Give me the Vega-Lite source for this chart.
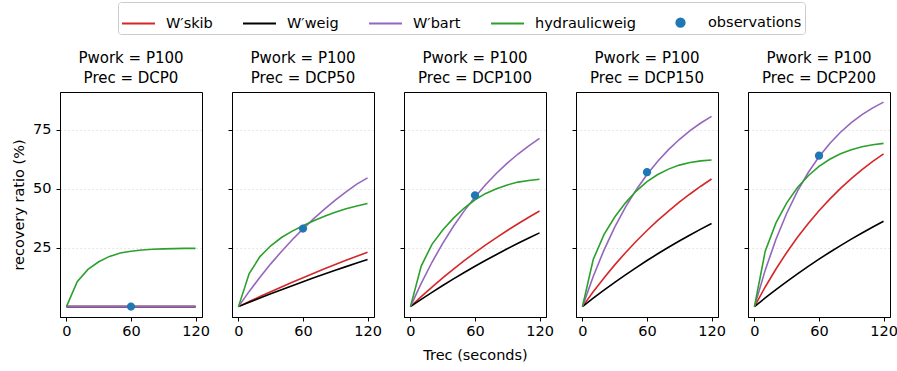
{
  "$schema": "https://vega.github.io/schema/vega-lite/v6.json",
  "padding": {"top": 1, "left": 11, "right": 5, "bottom": 5},
  "background": "white",
  "data": {"values": [
    {"p":0,"t":0,"s1":0,"s2":0,"s3":0,"s4":0},
    {"p":0,"t":10,"s1":0,"s2":0,"s3":0,"s4":10.6},
    {"p":0,"t":20,"s1":0,"s2":0,"s3":0,"s4":15.8},
    {"p":0,"t":30,"s1":0,"s2":0,"s3":0,"s4":19.0},
    {"p":0,"t":40,"s1":0,"s2":0,"s3":0,"s4":21.3},
    {"p":0,"t":50,"s1":0,"s2":0,"s3":0,"s4":22.7},
    {"p":0,"t":60,"s1":0,"s2":0,"s3":0,"s4":23.5},
    {"p":0,"t":70,"s1":0,"s2":0,"s3":0,"s4":24.0},
    {"p":0,"t":80,"s1":0,"s2":0,"s3":0,"s4":24.3},
    {"p":0,"t":90,"s1":0,"s2":0,"s3":0,"s4":24.5},
    {"p":0,"t":100,"s1":0,"s2":0,"s3":0,"s4":24.6},
    {"p":0,"t":110,"s1":0,"s2":0,"s3":0,"s4":24.7},
    {"p":0,"t":120,"s1":0,"s2":0,"s3":0,"s4":24.7},
    {"p":50,"t":0,"s1":0,"s2":0,"s3":0,"s4":0},
    {"p":50,"t":10,"s1":2.16,"s2":1.84,"s3":6.45,"s4":14.0},
    {"p":50,"t":20,"s1":4.27,"s2":3.65,"s3":12.49,"s4":21.2},
    {"p":50,"t":30,"s1":6.34,"s2":5.42,"s3":18.13,"s4":25.8},
    {"p":50,"t":40,"s1":8.36,"s2":7.17,"s3":23.41,"s4":29.3},
    {"p":50,"t":50,"s1":10.34,"s2":8.88,"s3":28.35,"s4":32.0},
    {"p":50,"t":60,"s1":12.28,"s2":10.55,"s3":32.97,"s4":34.3},
    {"p":50,"t":70,"s1":14.17,"s2":12.20,"s3":37.29,"s4":36.4},
    {"p":50,"t":80,"s1":16.03,"s2":13.82,"s3":41.34,"s4":38.3},
    {"p":50,"t":90,"s1":17.84,"s2":15.40,"s3":45.12,"s4":40.0},
    {"p":50,"t":100,"s1":19.62,"s2":16.96,"s3":48.66,"s4":41.5},
    {"p":50,"t":110,"s1":21.35,"s2":18.48,"s3":51.97,"s4":42.7},
    {"p":50,"t":120,"s1":23.05,"s2":19.98,"s3":54.6,"s4":43.7},
    {"p":100,"t":0,"s1":0,"s2":0,"s3":0,"s4":0},
    {"p":100,"t":10,"s1":4.24,"s2":3.08,"s3":9.89,"s4":17.2},
    {"p":100,"t":20,"s1":8.30,"s2":6.06,"s3":18.81,"s4":26.4},
    {"p":100,"t":30,"s1":12.18,"s2":8.95,"s3":26.84,"s4":32.5},
    {"p":100,"t":40,"s1":15.90,"s2":11.75,"s3":34.08,"s4":37.5},
    {"p":100,"t":50,"s1":19.47,"s2":14.47,"s3":40.60,"s4":41.8},
    {"p":100,"t":60,"s1":22.88,"s2":17.10,"s3":46.47,"s4":45.3},
    {"p":100,"t":70,"s1":26.15,"s2":19.65,"s3":51.77,"s4":48.0},
    {"p":100,"t":80,"s1":29.28,"s2":22.12,"s3":56.54,"s4":50.0},
    {"p":100,"t":90,"s1":32.27,"s2":24.52,"s3":60.84,"s4":51.6},
    {"p":100,"t":100,"s1":35.14,"s2":26.84,"s3":64.71,"s4":52.8},
    {"p":100,"t":110,"s1":37.89,"s2":29.09,"s3":68.20,"s4":53.5},
    {"p":100,"t":120,"s1":40.52,"s2":31.27,"s3":71.35,"s4":54.0},
    {"p":150,"t":0,"s1":0,"s2":0,"s3":0,"s4":0},
    {"p":150,"t":10,"s1":6.29,"s2":3.56,"s3":12.80,"s4":20.0},
    {"p":150,"t":20,"s1":12.18,"s2":6.99,"s3":23.97,"s4":30.5},
    {"p":150,"t":30,"s1":17.70,"s2":10.30,"s3":33.70,"s4":38.0},
    {"p":150,"t":40,"s1":22.87,"s2":13.49,"s3":42.19,"s4":44.0},
    {"p":150,"t":50,"s1":27.72,"s2":16.57,"s3":49.59,"s4":49.0},
    {"p":150,"t":60,"s1":32.27,"s2":19.54,"s3":56.04,"s4":53.0},
    {"p":150,"t":70,"s1":36.53,"s2":22.40,"s3":61.67,"s4":56.0},
    {"p":150,"t":80,"s1":40.52,"s2":25.16,"s3":66.58,"s4":58.3},
    {"p":150,"t":90,"s1":44.26,"s2":27.82,"s3":70.85,"s4":60.0},
    {"p":150,"t":100,"s1":47.76,"s2":30.39,"s3":74.59,"s4":61.1},
    {"p":150,"t":110,"s1":51.05,"s2":32.87,"s3":77.84,"s4":61.8},
    {"p":150,"t":120,"s1":54.12,"s2":35.26,"s3":80.68,"s4":62.2},
    {"p":200,"t":0,"s1":0,"s2":0,"s3":0,"s4":0},
    {"p":200,"t":10,"s1":8.33,"s2":3.68,"s3":15.47,"s4":23.5},
    {"p":200,"t":20,"s1":15.96,"s2":7.22,"s3":28.55,"s4":35.5},
    {"p":200,"t":30,"s1":22.96,"s2":10.63,"s3":39.60,"s4":44.0},
    {"p":200,"t":40,"s1":29.38,"s2":13.91,"s3":48.95,"s4":50.5},
    {"p":200,"t":50,"s1":35.26,"s2":17.08,"s3":56.85,"s4":55.5},
    {"p":200,"t":60,"s1":40.65,"s2":20.13,"s3":63.52,"s4":59.5},
    {"p":200,"t":70,"s1":45.59,"s2":23.06,"s3":69.17,"s4":62.5},
    {"p":200,"t":80,"s1":50.12,"s2":25.89,"s3":73.94,"s4":64.8},
    {"p":200,"t":90,"s1":54.28,"s2":28.61,"s3":77.97,"s4":66.5},
    {"p":200,"t":100,"s1":58.08,"s2":31.24,"s3":81.38,"s4":67.8},
    {"p":200,"t":110,"s1":61.57,"s2":33.77,"s3":84.26,"s4":68.6},
    {"p":200,"t":120,"s1":64.77,"s2":36.20,"s3":86.69,"s4":69.2},
    {"p":0,"t":60,"series":"s5","v":0},
    {"p":50,"t":60,"series":"s5","v":33.1},
    {"p":100,"t":60,"series":"s5","v":47.2},
    {"p":150,"t":60,"series":"s5","v":57.0},
    {"p":200,"t":60,"series":"s5","v":64.0}
  ]},
  "spacing": 30,
  "bounds": "flush",
  "hconcat": [
    {
      "width": 142, "height": 225,
      "title": {"text": ["Pwork = P100", "Prec = DCP0"]},
      "transform": [{"filter": "datum.p == 0"}],
      "layer": [
        {"mark": {"type": "line", "strokeWidth": 1.6},
         "transform": [{"filter": "isValid(datum.s1)"}, {"fold": ["s1","s2","s3","s4"], "as": ["series","v"]}],
         "encoding": {
           "x": {"field": "t", "type": "quantitative", "scale": {"domain": [-6,126], "nice": false, "zero": false}, "axis": {"values": [0,60,120], "title": null, "grid": false}},
           "y": {"field": "v", "type": "quantitative", "scale": {"domain": [-4.4,91], "nice": false, "zero": false}, "axis": {"values": [25,50,75], "title": "recovery ratio (%)", "labelPadding": 5, "titlePadding": 6}},
           "stroke": {"field": "series", "type": "nominal", "scale": {"domain": ["s1","s2","s3","s4","s5"], "range": ["#d62728","#000000","#9467bd","#2ca02c","#1f77b4"]},
             "legend": {"orient": "none", "direction": "horizontal", "legendX": 58, "legendY": -90, "title": null,
               "labelExpr": "{'s1':'W′skib','s2':'W′weig','s3':'W′bart','s4':'hydraulicweig','s5':'observations'}[datum.label]"}}
         }},
        {"mark": {"type": "point", "filled": true, "opacity": 1, "size": 1089, "strokeWidth": 0},
         "transform": [{"filter": "datum.series == 's5'"}],
         "encoding": {
           "x": {"field": "t", "type": "quantitative"},
           "y": {"field": "v", "type": "quantitative"},
           "stroke": {"field": "series", "type": "nominal"},
           "fill": {"field": "series", "type": "nominal", "scale": {"domain": ["s1","s2","s3","s4","s5"], "range": ["#d62728","#000000","#9467bd","#2ca02c","#1f77b4"]},
             "legend": {"orient": "none", "direction": "horizontal", "legendX": 58, "legendY": -90, "title": null,
               "labelExpr": "{'s1':'W′skib','s2':'W′weig','s3':'W′bart','s4':'hydraulicweig','s5':'observations'}[datum.label]"}},
           "shape": {"field": "series", "type": "nominal", "scale": {"domain": ["s1","s2","s3","s4","s5"], "range": ["stroke","stroke","stroke","stroke","M0.25,0A0.25,0.25,0,1,1,-0.25,0A0.25,0.25,0,1,1,0.25,0Z"]},
             "legend": {"orient": "none", "direction": "horizontal", "legendX": 58, "legendY": -90, "title": null,
               "labelExpr": "{'s1':'W′skib','s2':'W′weig','s3':'W′bart','s4':'hydraulicweig','s5':'observations'}[datum.label]"}}
         }}
      ]
    },
    {
      "width": 142, "height": 225,
      "title": {"text": ["Pwork = P100", "Prec = DCP50"]},
      "transform": [{"filter": "datum.p == 50"}],
      "layer": [
        {"mark": {"type": "line", "strokeWidth": 1.6},
         "transform": [{"filter": "isValid(datum.s1)"}, {"fold": ["s1","s2","s3","s4"], "as": ["series","v"]}],
         "encoding": {
           "x": {"field": "t", "type": "quantitative", "scale": {"domain": [-6,126], "nice": false, "zero": false}, "axis": {"values": [0,60,120], "title": null, "grid": false}},
           "y": {"field": "v", "type": "quantitative", "scale": {"domain": [-4.4,91], "nice": false, "zero": false}, "axis": {"values": [25,50,75], "title": null, "labels": false}},
           "stroke": {"field": "series", "type": "nominal"}
         }},
        {"mark": {"type": "point", "filled": true, "opacity": 1, "size": 1089, "strokeWidth": 0},
         "transform": [{"filter": "datum.series == 's5'"}],
         "encoding": {
           "x": {"field": "t", "type": "quantitative"},
           "y": {"field": "v", "type": "quantitative"},
           "stroke": {"field": "series", "type": "nominal"},
           "fill": {"field": "series", "type": "nominal"},
           "shape": {"field": "series", "type": "nominal"}
         }}
      ]
    },
    {
      "width": 142, "height": 225,
      "title": {"text": ["Pwork = P100", "Prec = DCP100"]},
      "transform": [{"filter": "datum.p == 100"}],
      "layer": [
        {"mark": {"type": "line", "strokeWidth": 1.6},
         "transform": [{"filter": "isValid(datum.s1)"}, {"fold": ["s1","s2","s3","s4"], "as": ["series","v"]}],
         "encoding": {
           "x": {"field": "t", "type": "quantitative", "scale": {"domain": [-6,126], "nice": false, "zero": false}, "axis": {"values": [0,60,120], "title": "Trec (seconds)", "titlePadding": 11, "grid": false}},
           "y": {"field": "v", "type": "quantitative", "scale": {"domain": [-4.4,91], "nice": false, "zero": false}, "axis": {"values": [25,50,75], "title": null, "labels": false}},
           "stroke": {"field": "series", "type": "nominal"}
         }},
        {"mark": {"type": "point", "filled": true, "opacity": 1, "size": 1089, "strokeWidth": 0},
         "transform": [{"filter": "datum.series == 's5'"}],
         "encoding": {
           "x": {"field": "t", "type": "quantitative"},
           "y": {"field": "v", "type": "quantitative"},
           "stroke": {"field": "series", "type": "nominal"},
           "fill": {"field": "series", "type": "nominal"},
           "shape": {"field": "series", "type": "nominal"}
         }}
      ]
    },
    {
      "width": 142, "height": 225,
      "title": {"text": ["Pwork = P100", "Prec = DCP150"]},
      "transform": [{"filter": "datum.p == 150"}],
      "layer": [
        {"mark": {"type": "line", "strokeWidth": 1.6},
         "transform": [{"filter": "isValid(datum.s1)"}, {"fold": ["s1","s2","s3","s4"], "as": ["series","v"]}],
         "encoding": {
           "x": {"field": "t", "type": "quantitative", "scale": {"domain": [-6,126], "nice": false, "zero": false}, "axis": {"values": [0,60,120], "title": null, "grid": false}},
           "y": {"field": "v", "type": "quantitative", "scale": {"domain": [-4.4,91], "nice": false, "zero": false}, "axis": {"values": [25,50,75], "title": null, "labels": false}},
           "stroke": {"field": "series", "type": "nominal"}
         }},
        {"mark": {"type": "point", "filled": true, "opacity": 1, "size": 1089, "strokeWidth": 0},
         "transform": [{"filter": "datum.series == 's5'"}],
         "encoding": {
           "x": {"field": "t", "type": "quantitative"},
           "y": {"field": "v", "type": "quantitative"},
           "stroke": {"field": "series", "type": "nominal"},
           "fill": {"field": "series", "type": "nominal"},
           "shape": {"field": "series", "type": "nominal"}
         }}
      ]
    },
    {
      "width": 142, "height": 225,
      "title": {"text": ["Pwork = P100", "Prec = DCP200"]},
      "transform": [{"filter": "datum.p == 200"}],
      "layer": [
        {"mark": {"type": "line", "strokeWidth": 1.6},
         "transform": [{"filter": "isValid(datum.s1)"}, {"fold": ["s1","s2","s3","s4"], "as": ["series","v"]}],
         "encoding": {
           "x": {"field": "t", "type": "quantitative", "scale": {"domain": [-6,126], "nice": false, "zero": false}, "axis": {"values": [0,60,120], "title": null, "grid": false}},
           "y": {"field": "v", "type": "quantitative", "scale": {"domain": [-4.4,91], "nice": false, "zero": false}, "axis": {"values": [25,50,75], "title": null, "labels": false}},
           "stroke": {"field": "series", "type": "nominal"}
         }},
        {"mark": {"type": "point", "filled": true, "opacity": 1, "size": 1089, "strokeWidth": 0},
         "transform": [{"filter": "datum.series == 's5'"}],
         "encoding": {
           "x": {"field": "t", "type": "quantitative"},
           "y": {"field": "v", "type": "quantitative"},
           "stroke": {"field": "series", "type": "nominal"},
           "fill": {"field": "series", "type": "nominal"},
           "shape": {"field": "series", "type": "nominal"}
         }}
      ]
    }
  ],
  "config": {
    "font": "DejaVu Sans",
    "view": {"stroke": "#000", "strokeWidth": 1},
    "axis": {"domainColor": "#000", "tickColor": "#000", "labelColor": "#000", "titleColor": "#000", "labelFontSize": 14.5, "titleFontSize": 14.5, "titleFontWeight": "normal", "tickSize": 4, "labelPadding": 3, "domainWidth": 1, "tickWidth": 1},
    "axisY": {"gridColor": "#d9d9d9", "gridDash": [1.5, 2.5], "gridWidth": 0.8},
    "title": {"fontSize": 15, "fontWeight": "normal", "color": "#000", "lineHeight": 20, "offset": 6},
    "legend": {"labelFontSize": 14.5, "labelColor": "#000", "symbolSize": 1089, "symbolStrokeWidth": 2, "labelOffset": 10, "columnPadding": 26, "padding": 3, "strokeColor": "#cccccc", "cornerRadius": 3, "fillColor": "white", "labelFont": "DejaVu Sans"}
  }
}
